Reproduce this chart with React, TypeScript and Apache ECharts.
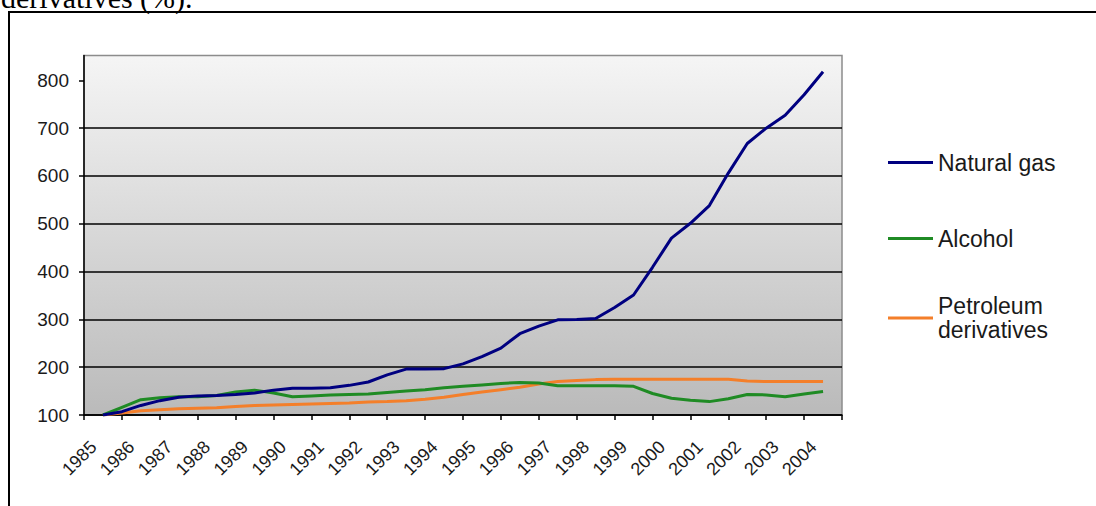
import { useEffect, useRef } from "react";
import * as echarts from "echarts";

// Index (1985 = 100), half-yearly readings
const years = [
  1985.5, 1986, 1986.5, 1987, 1987.5, 1988, 1988.5, 1989, 1989.5, 1990,
  1990.5, 1991, 1991.5, 1992, 1992.5, 1993, 1993.5, 1994, 1994.5, 1995,
  1995.5, 1996, 1996.5, 1997, 1997.5, 1998, 1998.5, 1999, 1999.5, 2000,
  2000.5, 2001, 2001.5, 2002, 2002.5, 2003, 2003.5, 2004, 2004.5,
];
const naturalGas = [
  100, 107, 120, 130, 137, 140, 141, 143, 146, 152,
  156, 156, 157, 162, 169, 184, 196, 196, 197, 207,
  222, 240, 270, 286, 299, 300, 302, 325, 351, 409,
  470, 501, 538, 606, 668, 700, 727, 770, 818,
];
const alcohol = [
  100, 116, 132, 136, 138, 138, 141, 148, 152, 146,
  138, 140, 142, 143, 144, 147, 150, 153, 157, 160,
  163, 166, 168, 167, 161, 161, 161, 161, 160, 145,
  135, 131, 128, 134, 143, 142, 138, 144, 149,
];
const petroleum = [
  100, 104, 109, 111, 113, 114, 115, 118, 120, 121,
  122, 123, 124, 125, 127, 128, 130, 133, 137, 143,
  148, 153, 158, 165, 170, 172, 174, 175, 175, 175,
  175, 175, 175, 175, 171, 170, 170, 170, 170,
];
const yTicks = [100, 200, 300, 400, 500, 600, 700, 800];
const labelYears = [
  1985, 1986, 1987, 1988, 1989, 1990, 1991, 1992, 1993, 1994,
  1995, 1996, 1997, 1998, 1999, 2000, 2001, 2002, 2003, 2004,
];

const SANS = '"Liberation Sans", Arial, sans-serif';
const LABEL_SHIFT = 0.25; // year labels sit a little right of their tick

const pairs = (vals: number[]) => years.map((y, i) => [y, vals[i]]);

export default function App() {
  const ref = useRef<HTMLDivElement>(null);

  useEffect(() => {
    if (!ref.current) return;
    const chart = echarts.init(ref.current, null, { renderer: "svg" });

    const legendBase = {
      orient: "vertical" as const,
      left: 888,
      padding: 0,
      icon: "rect",
      itemWidth: 45,
      itemHeight: 3,
      selectedMode: false,
      textStyle: { fontFamily: SANS, fontSize: 23, lineHeight: 24, color: "#1a1a1a" },
      formatter: (name: string) =>
        name === "Petroleum derivatives" ? "Petroleum\nderivatives" : name,
    };

    chart.setOption({
      animation: false,
      backgroundColor: "#ffffff",
      grid: {
        left: 84,
        right: 254,
        top: 55.5,
        bottom: 91,
        show: true,
        borderColor: "#8c8c8c",
        borderWidth: 1.5,
        backgroundColor: {
          type: "linear",
          x: 0, y: 0, x2: 0, y2: 1,
          colorStops: [
            { offset: 0, color: "#f5f5f5" },
            { offset: 1, color: "#bababa" },
          ],
        },
      },
      xAxis: {
        type: "value",
        min: 1985,
        max: 2005,
        interval: 1,
        axisLine: { show: true, lineStyle: { color: "#000", width: 1.5 } },
        axisTick: { show: true, length: 5, lineStyle: { color: "#000", width: 1.5 } },
        splitLine: { show: false },
        axisLabel: {
          customValues: labelYears.map((y) => y + LABEL_SHIFT),
          formatter: (v: number) => String(Math.round(v - LABEL_SHIFT)),
          rotate: 45,
          margin: 29,
          fontFamily: SANS,
          fontSize: 18,
          color: "#1a1a1a",
        },
      },
      yAxis: {
        type: "value",
        min: yTicks[0],
        max: 852,
        interval: 100,
        axisLine: { show: true, lineStyle: { color: "#000", width: 1.5 } },
        axisTick: {
          show: true,
          length: 5,
          customValues: yTicks,
          lineStyle: { color: "#000", width: 1.5 },
        },
        splitLine: {
          show: true,
          showMaxLine: false,
          lineStyle: { color: "#000", width: 1.5 },
        },
        axisLabel: {
          showMaxLabel: false,
          margin: 15,
          fontFamily: SANS,
          fontSize: 19,
          color: "#1a1a1a",
        },
      },
      legend: [
        { ...legendBase, top: 150.5, data: ["Natural gas"] },
        { ...legendBase, top: 226.5, data: ["Alcohol"] },
        { ...legendBase, top: 294, data: ["Petroleum derivatives"] },
      ],
      series: [
        {
          name: "Natural gas",
          type: "line",
          data: pairs(naturalGas),
          symbol: "none",
          color: "#000080",
          lineStyle: { width: 3, color: "#000080" },
          z: 4,
        },
        {
          name: "Alcohol",
          type: "line",
          data: pairs(alcohol),
          symbol: "none",
          color: "#1f8b24",
          lineStyle: { width: 3, color: "#1f8b24" },
          z: 3,
        },
        {
          name: "Petroleum derivatives",
          type: "line",
          data: pairs(petroleum),
          symbol: "none",
          color: "#f47f2a",
          lineStyle: { width: 3, color: "#f47f2a" },
          z: 2,
        },
      ],
      graphic: [
        {
          type: "text",
          x: 1,
          y: -2.5,
          style: {
            text: "derivatives (%).",
            font: '30px "Liberation Serif", "Times New Roman", serif',
            fill: "#000",
            verticalAlign: "middle",
          },
        },
        {
          type: "rect",
          shape: { x: 9, y: 12, width: 1200, height: 700 },
          style: { fill: "none", stroke: "#000", lineWidth: 2 },
        },
      ],
    });

    return () => chart.dispose();
  }, []);

  return (
    <div
      ref={ref}
      style={{ position: "fixed", left: 0, top: 0, width: 1096, height: 506 }}
    />
  );
}
